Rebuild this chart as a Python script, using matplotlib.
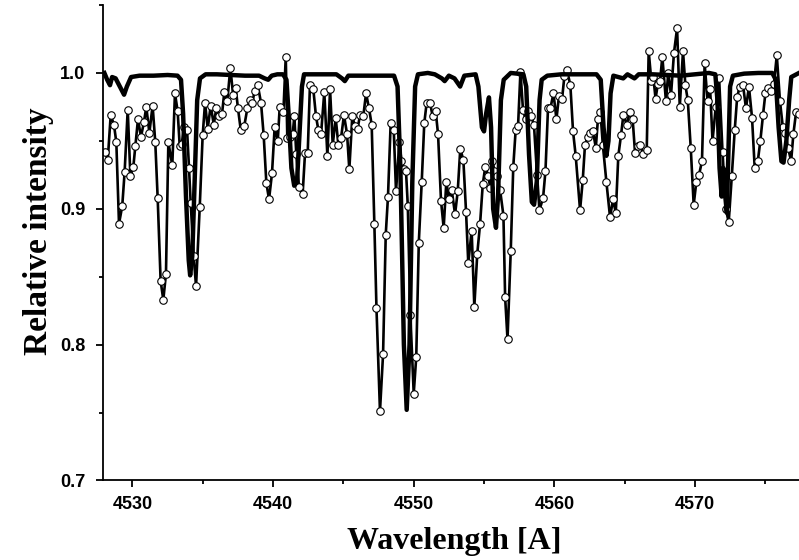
import matplotlib
matplotlib.use('Agg')
import matplotlib.pyplot as plt
from matplotlib.ticker import FixedLocator, FormatStrFormatter

# observed spectrum (circles)
obs_wave = [4528.04, 4528.24, 4528.45, 4528.68, 4528.85, 4529.04, 4529.27, 4529.44, 4529.66, 4529.85,
            4530.06, 4530.20, 4530.39, 4530.60, 4530.82, 4530.98, 4531.20, 4531.43, 4531.62, 4531.79,
            4532.00, 4532.19, 4532.38, 4532.55, 4532.83, 4533.02, 4533.21, 4533.36, 4533.50, 4533.68,
            4533.88, 4534.02, 4534.14, 4534.35, 4534.52, 4534.78, 4534.99, 4535.16, 4535.35, 4535.56,
            4535.78, 4535.96, 4536.17, 4536.37, 4536.53, 4536.74, 4536.96, 4537.15, 4537.34, 4537.50,
            4537.70, 4537.95, 4538.17, 4538.34, 4538.52, 4538.69, 4538.91, 4539.14, 4539.33, 4539.52,
            4539.71, 4539.92, 4540.11, 4540.33, 4540.47, 4540.73, 4540.90, 4541.01, 4541.20, 4541.39,
            4541.51, 4541.65, 4541.84, 4542.10, 4542.27, 4542.46, 4542.62, 4542.86, 4543.05, 4543.22,
            4543.41, 4543.64, 4543.86, 4544.05, 4544.24, 4544.45, 4544.64, 4544.83, 4545.04, 4545.26,
            4545.42, 4545.63, 4545.82, 4546.01, 4546.18, 4546.41, 4546.61, 4546.82, 4547.01, 4547.20,
            4547.35, 4547.60, 4547.82, 4548.01, 4548.17, 4548.36, 4548.58, 4548.74, 4548.98, 4549.13,
            4549.29, 4549.45, 4549.58, 4549.76, 4550.00, 4550.18, 4550.36, 4550.57, 4550.75, 4550.92,
            4551.16, 4551.35, 4551.56, 4551.73, 4551.94, 4552.13, 4552.32, 4552.50, 4552.70, 4552.94,
            4553.13, 4553.31, 4553.53, 4553.72, 4553.88, 4554.12, 4554.31, 4554.52, 4554.72, 4554.91,
            4555.09, 4555.31, 4555.45, 4555.60, 4555.74, 4555.91, 4556.14, 4556.38, 4556.50, 4556.67,
            4556.90, 4557.08, 4557.25, 4557.42, 4557.59, 4557.77, 4557.95, 4558.15, 4558.35, 4558.55,
            4558.77, 4558.94, 4559.20, 4559.37, 4559.55, 4559.72, 4559.94, 4560.15, 4560.33, 4560.55,
            4560.72, 4560.90, 4561.14, 4561.33, 4561.52, 4561.83, 4562.02, 4562.18, 4562.38, 4562.55,
            4562.75, 4562.95, 4563.10, 4563.28, 4563.45, 4563.70, 4563.96, 4564.18, 4564.37, 4564.55,
            4564.74, 4564.91, 4565.15, 4565.36, 4565.57, 4565.74, 4565.93, 4566.12, 4566.33, 4566.57,
            4566.71, 4566.90, 4567.04, 4567.20, 4567.36, 4567.52, 4567.68, 4567.94, 4568.10, 4568.30,
            4568.51, 4568.73, 4568.92, 4569.15, 4569.32, 4569.49, 4569.70, 4569.91, 4570.10, 4570.29,
            4570.50, 4570.69, 4570.90, 4571.08, 4571.25, 4571.48, 4571.72, 4571.96, 4572.20, 4572.40,
            4572.62, 4572.83, 4573.00, 4573.18, 4573.42, 4573.63, 4573.84, 4574.06, 4574.25, 4574.47,
            4574.65, 4574.84, 4575.01, 4575.20, 4575.41, 4575.62, 4575.82, 4576.05, 4576.25, 4576.41,
            4576.62, 4576.84, 4577.00, 4577.19, 4577.40]
obs_flux = [0.942, 0.936, 0.969, 0.962, 0.949, 0.889, 0.902, 0.927, 0.973, 0.924,
            0.931, 0.946, 0.966, 0.953, 0.964, 0.975, 0.956, 0.976, 0.949, 0.908,
            0.847, 0.833, 0.852, 0.949, 0.932, 0.985, 0.972, 0.946, 0.948, 0.960,
            0.958, 0.930, 0.904, 0.865, 0.843, 0.901, 0.954, 0.978, 0.959, 0.976,
            0.962, 0.974, 0.968, 0.970, 0.986, 0.979, 1.004, 0.984, 0.989, 0.974,
            0.958, 0.961, 0.974, 0.980, 0.978, 0.987, 0.991, 0.978, 0.954, 0.919,
            0.907, 0.926, 0.960, 0.950, 0.975, 0.971, 1.012, 0.952, 0.953, 0.955,
            0.968, 0.940, 0.916, 0.911, 0.941, 0.941, 0.991, 0.988, 0.968, 0.958,
            0.955, 0.986, 0.939, 0.988, 0.947, 0.967, 0.947, 0.952, 0.969, 0.955,
            0.929, 0.968, 0.961, 0.959, 0.969, 0.968, 0.985, 0.974, 0.962, 0.889,
            0.827, 0.751, 0.793, 0.881, 0.909, 0.963, 0.958, 0.913, 0.949, 0.935,
            0.929, 0.928, 0.902, 0.822, 0.764, 0.791, 0.875, 0.920, 0.963, 0.978,
            0.978, 0.968, 0.972, 0.955, 0.906, 0.886, 0.920, 0.907, 0.914, 0.896,
            0.913, 0.944, 0.936, 0.898, 0.860, 0.884, 0.828, 0.867, 0.889, 0.918,
            0.931, 0.924, 0.915, 0.935, 0.928, 0.924, 0.914, 0.895, 0.835, 0.804,
            0.869, 0.931, 0.958, 0.961, 1.001, 0.973, 0.966, 0.972, 0.968, 0.962,
            0.925, 0.899, 0.908, 0.928, 0.974, 0.974, 0.985, 0.966, 0.983, 0.981,
            0.998, 1.002, 0.991, 0.957, 0.939, 0.899, 0.921, 0.947, 0.953, 0.956,
            0.957, 0.945, 0.966, 0.971, 0.947, 0.920, 0.894, 0.907, 0.897, 0.939,
            0.954, 0.969, 0.962, 0.971, 0.966, 0.941, 0.946, 0.947, 0.940, 0.943,
            1.016, 0.994, 0.997, 0.981, 0.992, 0.994, 1.012, 0.979, 1.000, 0.984,
            1.015, 1.033, 0.975, 1.016, 0.991, 0.980, 0.945, 0.903, 0.920, 0.925,
            0.935, 1.007, 0.979, 0.988, 0.950, 0.975, 0.996, 0.942, 0.900, 0.890,
            0.924, 0.958, 0.982, 0.990, 0.991, 0.974, 0.990, 0.967, 0.930, 0.935,
            0.950, 0.969, 0.985, 0.989, 0.987, 0.992, 1.013, 0.979, 0.960, 0.956,
            0.945, 0.935, 0.955, 0.971, 0.970]

# synthetic spectrum (thick line)
syn_wave = [4528.0, 4528.2, 4528.4, 4528.55, 4528.8, 4529.2, 4529.4, 4529.6, 4529.9, 4530.5,
            4531.5, 4532.5, 4533.2, 4533.45, 4533.6, 4533.8, 4534.0, 4534.1, 4534.25, 4534.45,
            4534.6, 4534.8, 4535.2, 4536.0, 4537.0, 4538.0, 4539.0, 4539.4, 4539.65, 4539.9,
            4540.3, 4540.7, 4540.95, 4541.1, 4541.3, 4541.5, 4541.7, 4541.9, 4542.05, 4542.2,
            4543.0, 4544.5, 4544.9, 4545.1, 4545.35, 4546.0, 4547.0, 4548.0, 4548.6, 4548.85,
            4549.05, 4549.3, 4549.5, 4549.7, 4549.9, 4550.1, 4550.3, 4551.0, 4551.5, 4552.0,
            4552.2, 4552.5, 4552.9, 4553.3, 4553.6, 4554.4, 4554.6, 4554.85, 4555.0, 4555.15,
            4555.35, 4555.5, 4555.65, 4555.85, 4556.0, 4556.2, 4556.4, 4556.9, 4557.8, 4558.0,
            4558.2, 4558.4, 4558.56, 4558.75, 4558.95, 4559.1, 4559.5, 4560.5, 4562.0, 4563.0,
            4563.3, 4563.5, 4563.7, 4563.85, 4564.0, 4564.2, 4564.9, 4565.2, 4565.7, 4566.0,
            4567.0, 4568.0, 4569.0, 4570.0, 4571.0, 4571.45, 4571.6, 4571.75, 4571.9, 4572.02,
            4572.15, 4572.27, 4572.4, 4572.5, 4572.7, 4573.5, 4574.5, 4575.5, 4575.75, 4575.95,
            4576.15, 4576.3, 4576.5, 4576.7, 4576.85, 4577.4]
syn_flux = [1.000, 0.995, 0.991, 0.997, 0.996, 0.988, 0.984, 0.990, 0.997, 0.998,
            0.998, 0.9985, 0.998, 0.995, 0.970, 0.910, 0.862, 0.851, 0.865, 0.930,
            0.980, 0.996, 0.999, 0.999, 0.9985, 0.998, 0.998, 0.996, 0.995, 0.998,
            0.999, 0.999, 0.995, 0.970, 0.930, 0.917, 0.920, 0.960, 0.990, 0.999,
            0.999, 0.999, 0.996, 0.994, 0.998, 0.998, 0.998, 0.998, 0.998, 0.990,
            0.930, 0.800, 0.752, 0.800, 0.920, 0.990, 0.999, 1.000, 0.999, 0.996,
            0.994, 0.998, 0.996, 0.990, 0.998, 0.999, 0.990, 0.960, 0.957, 0.970,
            0.982, 0.960, 0.900, 0.886, 0.910, 0.980, 0.995, 1.000, 0.999, 0.990,
            0.940, 0.905, 0.903, 0.920, 0.980, 0.995, 0.998, 0.999, 0.999, 0.999,
            0.995, 0.960, 0.939, 0.950, 0.985, 0.998, 0.996, 0.999, 0.996, 0.999,
            0.999, 0.9985, 0.998, 0.999, 1.000, 0.999, 0.980, 0.930, 0.909, 0.930,
            0.910, 0.897, 0.950, 0.990, 0.998, 0.9995, 1.000, 1.000, 0.995, 0.960,
            0.935, 0.934, 0.950, 0.980, 0.997, 1.000]

x_ticks = [4530, 4540, 4550, 4560, 4570]
x_minor = [4535, 4545, 4555, 4565, 4575]
y_ticks = [0.7, 0.8, 0.9, 1.0]
y_minor = [0.75, 0.85, 0.95, 1.05]

fig = plt.figure(figsize=(7.99, 5.6), dpi=100)
ax = fig.add_axes([0.1294, 0.142, 0.8706, 0.849])

ax.plot(obs_wave, obs_flux, color='black', lw=1.9, marker='o', markersize=5.4,
        markerfacecolor='white', markeredgecolor='black', markeredgewidth=0.8, zorder=2)
ax.plot(syn_wave, syn_flux, color='black', lw=3.2, zorder=3, solid_joinstyle='round')

ax.set_xlim(4527.93, 4577.4)
ax.set_ylim(0.7, 1.05)

for s in ['top', 'right']:
    ax.spines[s].set_visible(False)
for s in ['left', 'bottom']:
    ax.spines[s].set_linewidth(1.3)

ax.xaxis.set_major_locator(FixedLocator(x_ticks))
ax.xaxis.set_minor_locator(FixedLocator(x_minor))
ax.yaxis.set_major_locator(FixedLocator(y_ticks))
ax.yaxis.set_minor_locator(FixedLocator(y_minor))
ax.yaxis.set_major_formatter(FormatStrFormatter('%.1f'))
ax.tick_params(which='major', length=5, width=1.3)
ax.tick_params(which='minor', length=3, width=1.3)
ax.tick_params(axis='x', pad=6)
ax.tick_params(axis='y', pad=8)
for lab in ax.get_xticklabels() + ax.get_yticklabels():
    lab.set_fontfamily('Liberation Sans')
    lab.set_fontweight('bold')
    lab.set_fontsize(13)

ax.set_xlabel('Wavelength [A]', family='Liberation Serif', weight='bold', fontsize=23)
ax.xaxis.set_label_coords(0.505, -0.129)
ax.xaxis.label.set_va('center')
ax.set_ylabel('Relative intensity', family='Liberation Serif', weight='bold', fontsize=24)
ax.yaxis.set_label_coords(-0.0926, 0.525)
ax.yaxis.label.set_va('center')

fig.savefig('out.png', dpi=100)
